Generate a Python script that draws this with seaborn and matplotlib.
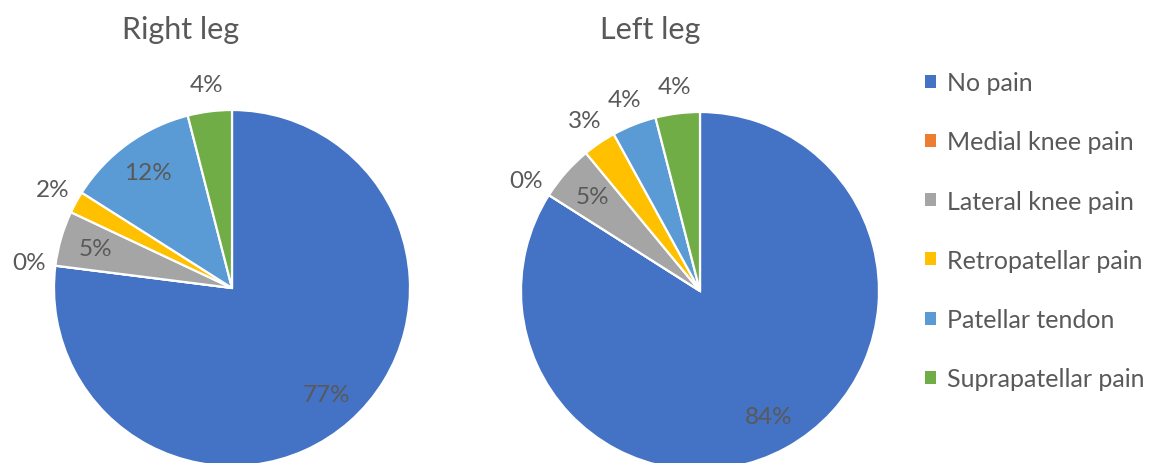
import numpy as np
import matplotlib.pyplot as plt
import seaborn as sns
from matplotlib.patches import Patch

# data (percent)
categories = ['No pain', 'Medial knee pain', 'Lateral knee pain',
              'Retropatellar pain', 'Patellar tendon', 'Suprapatellar pain']
right_leg = [77, 0, 5, 2, 12, 4]
left_leg = [84, 0, 5, 3, 4, 4]
titles = ['Right leg', 'Left leg']

colors = ['#4472C4', '#ED7D31', '#A5A5A5', '#FFC000', '#5B9BD5', '#70AD47']
text_color = '#595959'

sns.set_theme(style='white')
plt.rcParams['font.family'] = ['Lato', 'DejaVu Sans']

W, H = 1153, 464
fig = plt.figure(figsize=(W / 100, H / 100), dpi=100)


def draw_pie(values, title, cx, cy, r, tx, ty):
    # axes box in pixel terms, turned into figure fractions
    ax = fig.add_axes([(cx - r) / W, (H - cy - r) / H, 2 * r / W, 2 * r / H])
    wedges, _ = ax.pie(values, colors=colors, startangle=90, counterclock=False,
                       wedgeprops=dict(edgecolor='white', linewidth=1.6))
    ax.set_xlim(-1, 1)
    ax.set_ylim(-1, 1)
    ax.set_aspect('auto')
    ax.axis('off')
    for w, v in zip(wedges, values):
        ang = np.deg2rad((w.theta1 + w.theta2) / 2)
        d = 0.8 if v >= 5 else 1.15
        ax.text(d * np.cos(ang), d * np.sin(ang), f'{v}%', ha='center', va='center',
                fontsize=17.5, color=text_color, clip_on=False)
    fig.text(tx / W, 1 - ty / H, title, ha='center', va='center',
             fontsize=22, color=text_color)


draw_pie(right_leg, titles[0], 232, 289, 178, 181, 30)
draw_pie(left_leg, titles[1], 700, 292, 179, 650, 30)

handles = [Patch(facecolor=c, edgecolor='none') for c in colors]
leg = fig.legend(handles, categories, loc='upper left', bbox_to_anchor=(915 / W, 1 - 62 / H),
                 frameon=False, fontsize=18, handlelength=0.42, handleheight=0.42,
                 handletextpad=0.45, labelspacing=1.45, borderaxespad=0)
for t in leg.get_texts():
    t.set_color(text_color)

fig.savefig('out.png', dpi=100)
